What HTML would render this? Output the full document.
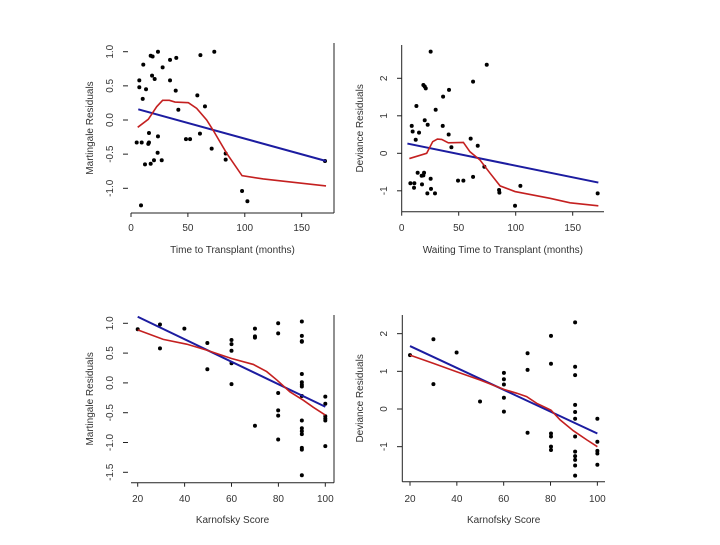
<!DOCTYPE html>
<html><head><meta charset="utf-8"><style>
html,body{margin:0;padding:0;background:#fff;}
svg text{font-family:"Liberation Sans",sans-serif;fill:#333;font-size:10px;}
</style></head><body>
<svg id="c" width="720" height="540" xmlns="http://www.w3.org/2000/svg"></svg>
<script>
// Panel 1: Martingale residuals vs time to transplant
const p1X=[8.8,5,9.4,15.8,15.2,12.3,17.3,20.2,23.4,27,23.7,15.8,7.3,7.3,10.3,13.2,10.8,17.3,19,23.7,18.5,20.8,27.8,34.3,39.8,34.3,39.3,41.6,48.3,51.9,60.6,58.3,65,61,73.2,70.9,83.2,83.2,97.6,102.3,170.5];
const p1Y=[-1.25,-0.33,-0.33,-0.33,-0.35,-0.65,-0.64,-0.59,-0.48,-0.59,-0.24,-0.19,0.48,0.58,0.31,0.45,0.81,0.94,0.93,1.0,0.65,0.6,0.77,0.88,0.91,0.58,0.43,0.15,-0.28,-0.28,-0.2,0.36,0.2,0.95,1.0,-0.42,-0.58,-0.49,-1.04,-1.19,-0.6];
const p1FitX=[6.4,171.4], p1FitY=[0.156,-0.6];
const p1LoX=[5.9,15.2,22.6,27.8,33.7,38.7,50.4,57.7,66.5,72.4,84.1,97.6,116.3,136.8,171.4];
const p1LoY=[-0.107,0.01,0.195,0.288,0.288,0.263,0.254,0.171,0,-0.156,-0.488,-0.815,-0.863,-0.902,-0.966];
const p1XTicks=[0,50,100,150], p1YTicks=[-1.0,-0.5,0.0,0.5,1.0], p1YLabels=["-1.0","-0.5","0.0","0.5","1.0"];
// Panel 2: Deviance residuals vs waiting time
const p2X=[25.4,74.6,62.6,19,20.2,21.1,41.5,36.3,12.9,29.8,20.2,22.8,8.8,36,9.6,15.2,41.2,12.3,60.5,43.6,66.7,72.5,14,19.6,19,17.5,25.4,62.6,49.4,54.1,7.6,11.1,17.8,10.8,25.7,22.5,29.2,85.4,85.7,104.1,99.4,171.9];
const p2Y=[2.71,2.36,1.91,1.82,1.78,1.73,1.69,1.51,1.26,1.16,0.88,0.76,0.73,0.73,0.58,0.55,0.5,0.36,0.39,0.16,0.2,-0.36,-0.52,-0.52,-0.59,-0.6,-0.68,-0.63,-0.73,-0.73,-0.8,-0.8,-0.83,-0.92,-0.95,-1.07,-1.07,-0.98,-1.05,-0.87,-1.4,-1.07];
const p2FitX=[5,172.5], p2FitY=[0.26,-0.78];
const p2LoX=[6.7,21.9,27.2,31.3,35.1,40.9,54.1,59.9,68.7,77.5,86.3,99.4,109.6,130.1,147.7,172.5];
const p2LoY=[-0.14,0,0.31,0.38,0.37,0.28,0.29,0.04,-0.18,-0.53,-0.87,-1.02,-1.08,-1.2,-1.32,-1.4];
const p2XTicks=[0,50,100,150], p2YTicks=[-1,0,1,2], p2YLabels=["-1","0","1","2"];
// Panel 3: Martingale residuals vs Karnofsky
const p3X=[20,29.5,29.5,39.9,49.7,49.7,60,60,60,60,60,70,70,70,70,79.9,79.9,79.9,79.9,79.9,79.9,90,90,90,90,90,90,90,90,90,90,90,90,90,90,90,90,100,100,100,100,100,100];
const p3Y=[0.9,0.98,0.58,0.91,0.67,0.23,0.72,0.65,0.54,0.33,-0.02,0.91,0.78,0.76,-0.72,1.0,0.83,-0.17,-0.46,-0.55,-0.95,1.03,0.79,0.7,0.69,0.15,0.01,-0.03,-0.06,-0.22,-0.63,-0.76,-0.81,-0.86,-1.09,-1.12,-1.55,-0.23,-0.35,-0.56,-0.6,-0.63,-1.06];
const p3FitX=[20,100], p3FitY=[1.11,-0.4];
const p3LoX=[20,30.9,40.9,49.4,60,69.3,75,79.3,84.9,90.6,94.9,100];
const p3LoY=[0.89,0.73,0.65,0.55,0.41,0.31,0.19,0.05,-0.15,-0.29,-0.41,-0.54];
const p3XTicks=[20,40,60,80,100], p3YTicks=[-1.5,-1.0,-0.5,0.0,0.5,1.0], p3YLabels=["-1.5","-1.0","-0.5","0.0","0.5","1.0"];
// Panel 4: Deviance residuals vs Karnofsky
const p4X=[20,30,30,39.9,49.9,60.1,60.1,60.1,60.1,60.1,70.2,70.2,70.2,80.2,80.2,80.2,80.2,80.2,80.2,90.5,90.5,90.5,90.5,90.5,90.5,90.5,90.5,90.5,90.5,90.5,90.5,100,100,100,100,100];
const p4Y=[1.43,1.85,0.66,1.5,0.2,0.96,0.79,0.65,0.3,-0.07,1.48,1.04,-0.63,1.94,1.2,-0.65,-0.73,-1.0,-1.09,2.3,1.12,0.9,0.11,-0.08,-0.26,-0.73,-1.13,-1.25,-1.35,-1.5,-1.77,-0.26,-0.87,-1.11,-1.18,-1.48];
const p4FitX=[20,100], p4FitY=[1.67,-0.65];
const p4LoX=[20,30,39.9,49.9,60.1,65.5,69.8,74.1,80.2,84.1,89.8,95.5,100];
const p4LoY=[1.43,1.21,0.99,0.77,0.52,0.42,0.33,0.15,-0.03,-0.29,-0.58,-0.82,-1.0];
const p4XTicks=[20,40,60,80,100], p4YTicks=[-1,0,1,2], p4YLabels=["-1","0","1","2"];

const NS="http://www.w3.org/2000/svg";
const svg=document.getElementById('c');
function mk(tag,attrs,parent){const e=document.createElementNS(NS,tag);for(const k in attrs)e.setAttribute(k,attrs[k]);(parent||svg).appendChild(e);return e;}

const panels=[
 {id:'p1',xs:p1X,ys:p1Y,fx:p1FitX,fy:p1FitY,lx:p1LoX,ly:p1LoY,xt:p1XTicks,yt:p1YTicks,yl:p1YLabels,
  x0:131,xk:1.1378,xmin:0,y0:120,yk:68.3,left:131,right:334,top:43,bottom:213,side:'right',
  ytx:113,ytitle:'Martingale Residuals',xtitle:'Time to Transplant (months)',tx:93,xtl:231,xttl:253},
 {id:'p2',xs:p2X,ys:p2Y,fx:p2FitX,fy:p2FitY,lx:p2LoX,ly:p2LoY,xt:p2XTicks,yt:p2YTicks,yl:p2YLabels,
  x0:401.7,xk:1.14,xmin:0,y0:153.3,yk:37.5,left:401.7,right:604,top:45,bottom:211.7,side:'left',
  ytx:387,ytitle:'Deviance Residuals',xtitle:'Waiting Time to Transplant (months)',tx:363,xtl:231,xttl:253},
 {id:'p3',xs:p3X,ys:p3Y,fx:p3FitX,fy:p3FitY,lx:p3LoX,ly:p3LoY,xt:p3XTicks,yt:p3YTicks,yl:p3YLabels,
  x0:137.7,xk:2.345,xmin:20,y0:382.9,yk:59.6,left:131,right:334,top:315,bottom:482.7,side:'right',
  ytx:113,ytitle:'Martingale Residuals',xtitle:'Karnofsky Score',tx:93,xtl:502,xttl:523},
 {id:'p4',xs:p4X,ys:p4Y,fx:p4FitX,fy:p4FitY,lx:p4LoX,ly:p4LoY,xt:p4XTicks,yt:p4YTicks,yl:p4YLabels,
  x0:410,xk:2.342,xmin:20,y0:409,yk:37.67,left:402.3,right:605,top:315,bottom:481.7,side:'left',
  ytx:387,ytitle:'Deviance Residuals',xtitle:'Karnofsky Score',tx:363,xtl:502,xttl:523}
];

panels.forEach(p=>{
  const sx=v=>p.x0+(v-p.xmin)*p.xk;
  const sy=v=>p.y0-v*p.yk;
  const g=mk('g',{});
  
  
  // axes
  const ax=mk('path',{d:`M${p.left},${p.bottom}H${p.right}`+(p.side==='right'?`M${p.right},${p.top}V${p.bottom}`:`M${p.left},${p.top}V${p.bottom}`),stroke:'#222','stroke-width':1,fill:'none'},g);
  
  
  p.xt.forEach(t=>{
    const x=sx(t);
    mk('line',{x1:x,x2:x,y1:p.bottom,y2:p.bottom+4,stroke:'#222'},g);
    const tl=mk('text',{x:x,y:p.xtl,'text-anchor':'middle'},g);
    tl.textContent=t;
    
    
  });
  p.yt.forEach((t,i)=>{
    const y=sy(t);
    mk('line',{x1:p.ytx+10,x2:p.ytx+15,y1:y,y2:y,stroke:'#222'},g);
    const tl=mk('text',{x:p.ytx,y:y,'text-anchor':'middle',transform:`rotate(-90 ${p.ytx} ${y})`},g);
    tl.textContent=p.yl[i];
    
    
  });
  const cy=(p.top+p.bottom)/2;
  const yt=mk('text',{x:p.tx,y:cy,'text-anchor':'middle',transform:`rotate(-90 ${p.tx} ${cy})`},g);
  yt.textContent=p.ytitle;
  
  
  const xt=mk('text',{x:(p.left+p.right)/2,y:p.xttl,'text-anchor':'middle'},g);
  xt.textContent=p.xtitle;
  
  
  // points
  p.xs.forEach((v,i)=>{
    const c=mk('circle',{cx:sx(v),cy:sy(p.ys[i]),r:2,fill:'#000'},g);
    
    
  });
  // linear fit
  const bl=mk('line',{x1:sx(p.fx[0]),y1:sy(p.fy[0]),x2:sx(p.fx[1]),y2:sy(p.fy[1]),stroke:'#1c1ca0','stroke-width':2},g);
  
  
  // lowess
  const rl=mk('polyline',{points:p.lx.map((v,i)=>sx(v)+','+sy(p.ly[i])).join(' '),stroke:'#c42020','stroke-width':1.6,fill:'none'},g);
  
  
});
</script>
</body></html>
